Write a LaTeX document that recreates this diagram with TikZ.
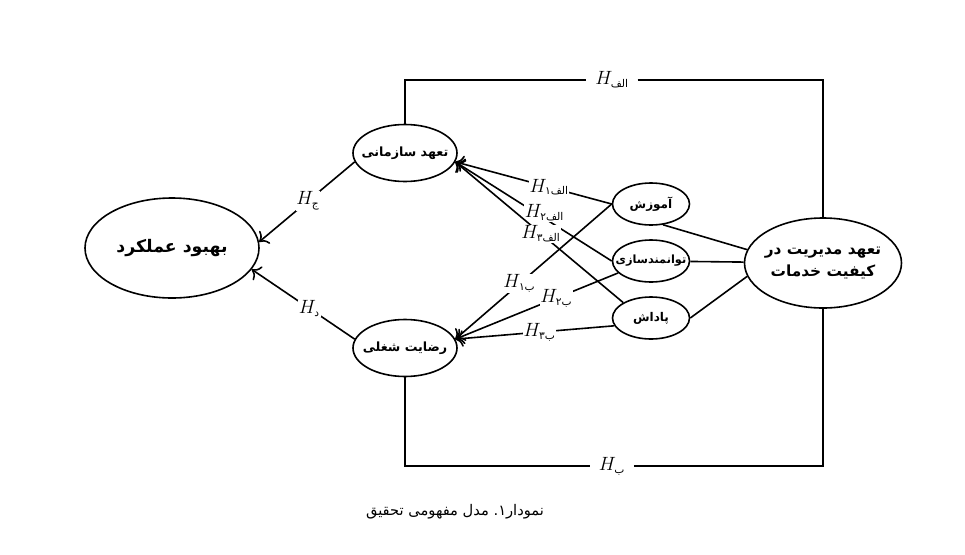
\documentclass[tikz,border=0pt]{standalone}
\usepackage{fontspec}
\usepackage{amsmath}
\usetikzlibrary{shapes.geometric,positioning,arrows.meta}
\newfontfamily\arabicfont[Script=Arabic]{DejaVu Sans}
\TeXXeTstate=1
\newcommand{\subfa}{\arabicfont\fontsize{8}{8}\selectfont}
\newcommand{\hyp}[2]{$H_{\mbox{\subfa #1}\mbox{\subfa #2}}$}
\newcommand{\fa}[1]{\makebox[0pt]{\beginR #1\endR}}

\begin{document}
\begin{tikzpicture}[x=0.75pt, y=-0.75pt, very thick, node distance=42.75pt, >={To[scale=1.4]},
    main/.style={draw, ellipse, inner sep=0pt, minimum width=78pt, minimum height=42.75pt, font=\arabicfont\bfseries\fontsize{9.5}{12}\selectfont},
    small/.style={main, minimum width=57.75pt, minimum height=31.5pt, font=\arabicfont\bfseries\fontsize{9}{11}\selectfont},
    lbl/.style={fill=white, inner sep=0.5pt, font=\fontsize{14.5}{14.5}\selectfont}]
    \useasboundingbox (0,0) rectangle (965,554);

    \node[main, minimum width=130.5pt, minimum height=75pt, font=\arabicfont\bfseries\fontsize{13}{15}\selectfont] (1) at (172,248) {\fa{بهبود عملکرد}};
    \node[main] (2) at (405,153) {\fa{تعهد سازمانی}};
    \node[main] (3) [below of = 2, node distance=146.25pt] {\fa{رضایت شغلی}};
    \node[small] (4) at (651,204) {\fa{آموزش}};
    \node[small, font=\arabicfont\bfseries\fontsize{8.5}{10}\selectfont] (5) [below of = 4] {\fa{توانمندسازی}};
    \node[small] (6) [below of = 5] {\fa{پاداش}};
    \node[main, align=center, minimum width=117.75pt, minimum height=67.5pt, font=\arabicfont\bfseries\fontsize{11.5}{17}\selectfont] (7) at (823,263) {\fa{تعهد مدیریت در}\\\fa{کیفیت خدمات}};

    \node[lbl, inner xsep=6pt] (a) at (612,80) {\hyp{}{الف}};
    \node[lbl, inner xsep=6pt] (b) at (612,466) {\hyp{}{ب}};
    \node (cap) at (455,512) {\arabicfont\fontsize{11}{13}\selectfont\beginR نمودار\mbox{۱}\mbox{.} مدل مفهومی تحقیق\endR};

    \draw[->] (2.190) -- node[lbl, pos=0.49] (hc) {\hyp{}{ج}} (1.4);
    \draw[->] (3.170) -- node[lbl, pos=0.44] (hd) {\hyp{}{د}} (1.345);

    \draw[->] (4.west) -- node[lbl, pos=0.4] (h1) {\hyp{۱}{الف}} (2.350);
    \draw[->] (5.west) -- node[lbl, pos=0.43, yshift=4pt] (h2) {\hyp{۲}{الف}} (2.350);
    \draw[->] (6.north west) -- node[lbl, pos=0.49] (h3) {\hyp{۳}{الف}} (2.350);
    \draw[->] (4.west) -- node[lbl, pos=0.59] (h4) {\hyp{۱}{ب}} (3.10);
    \draw[->] (5.200) -- node[lbl, pos=0.38] (h5) {\hyp{۲}{ب}} (3.10);
    \draw[->] (6.192) -- node[lbl, pos=0.47] (h6) {\hyp{۳}{ب}} (3.10);

    \draw (4.300) -- (7.170);
    \draw (5) -- (7);
    \draw (6.east) -- (7.190);

    \draw (2.north) |- (a);
    \draw (a) -| (7.north);
    \draw (3.south) |- (b);
    \draw (b) -| (7.south);
\end{tikzpicture}
\end{document}
